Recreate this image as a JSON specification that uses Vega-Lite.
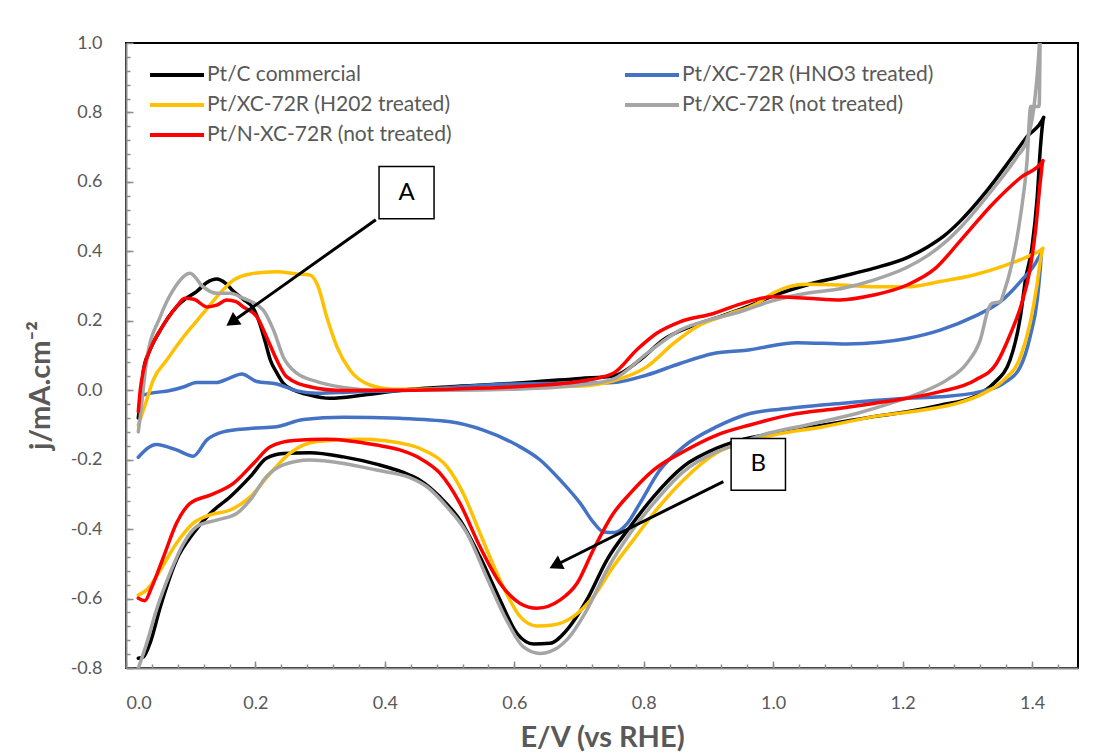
{
  "$schema": "https://vega.github.io/schema/vega-lite/v6.json",
  "width": 952,
  "height": 625,
  "autosize": {"type": "none"},
  "padding": {"left": 126, "top": 43, "right": 19, "bottom": 85},
  "background": "white",
  "config": {
    "locale": {"number": {"decimal": ".", "thousands": ",", "grouping": [3], "currency": ["$", ""], "minus": "-"}},
    "view": {"stroke": "#000000", "strokeWidth": 2},
    "font": "Lato",
    "axis": {
      "grid": false,
      "domainColor": "#8c8c8c",
      "domainWidth": 2,
      "tickColor": "#8c8c8c",
      "tickWidth": 1.5,
      "labelColor": "#595959",
      "labelFont": "Lato",
      "labelFontSize": 18,
      "titleColor": "#595959",
      "titleFont": "Lato",
      "titleFontSize": 29,
      "titleFontWeight": "bold",
      "zindex": 1
    }
  },
  "datasets": {
    "cv": [
      {"s": "Pt/C commercial", "i": 0, "E": 0.019, "j": -0.08},
      {"s": "Pt/C commercial", "i": 1, "E": 0.024, "j": 0.0},
      {"s": "Pt/C commercial", "i": 2, "E": 0.027, "j": 0.058},
      {"s": "Pt/C commercial", "i": 3, "E": 0.037, "j": 0.116},
      {"s": "Pt/C commercial", "i": 4, "E": 0.053, "j": 0.173},
      {"s": "Pt/C commercial", "i": 5, "E": 0.078, "j": 0.24},
      {"s": "Pt/C commercial", "i": 6, "E": 0.091, "j": 0.262},
      {"s": "Pt/C commercial", "i": 7, "E": 0.109, "j": 0.284},
      {"s": "Pt/C commercial", "i": 8, "E": 0.125, "j": 0.31},
      {"s": "Pt/C commercial", "i": 9, "E": 0.14, "j": 0.32},
      {"s": "Pt/C commercial", "i": 10, "E": 0.154, "j": 0.308},
      {"s": "Pt/C commercial", "i": 11, "E": 0.166, "j": 0.285},
      {"s": "Pt/C commercial", "i": 12, "E": 0.181, "j": 0.262},
      {"s": "Pt/C commercial", "i": 13, "E": 0.197, "j": 0.235},
      {"s": "Pt/C commercial", "i": 14, "E": 0.207, "j": 0.19},
      {"s": "Pt/C commercial", "i": 15, "E": 0.215, "j": 0.14},
      {"s": "Pt/C commercial", "i": 16, "E": 0.223, "j": 0.087},
      {"s": "Pt/C commercial", "i": 17, "E": 0.233, "j": 0.05},
      {"s": "Pt/C commercial", "i": 18, "E": 0.243, "j": 0.02},
      {"s": "Pt/C commercial", "i": 19, "E": 0.26, "j": 0.0},
      {"s": "Pt/C commercial", "i": 20, "E": 0.284, "j": -0.014},
      {"s": "Pt/C commercial", "i": 21, "E": 0.315, "j": -0.023},
      {"s": "Pt/C commercial", "i": 22, "E": 0.367, "j": -0.014},
      {"s": "Pt/C commercial", "i": 23, "E": 0.439, "j": 0.003},
      {"s": "Pt/C commercial", "i": 24, "E": 0.5, "j": 0.01},
      {"s": "Pt/C commercial", "i": 25, "E": 0.6, "j": 0.02},
      {"s": "Pt/C commercial", "i": 26, "E": 0.702, "j": 0.034},
      {"s": "Pt/C commercial", "i": 27, "E": 0.753, "j": 0.041},
      {"s": "Pt/C commercial", "i": 28, "E": 0.794, "j": 0.087},
      {"s": "Pt/C commercial", "i": 29, "E": 0.83, "j": 0.145},
      {"s": "Pt/C commercial", "i": 30, "E": 0.872, "j": 0.183},
      {"s": "Pt/C commercial", "i": 31, "E": 0.918, "j": 0.212},
      {"s": "Pt/C commercial", "i": 32, "E": 0.959, "j": 0.24},
      {"s": "Pt/C commercial", "i": 33, "E": 1.0, "j": 0.272},
      {"s": "Pt/C commercial", "i": 34, "E": 1.052, "j": 0.303},
      {"s": "Pt/C commercial", "i": 35, "E": 1.104, "j": 0.327},
      {"s": "Pt/C commercial", "i": 36, "E": 1.155, "j": 0.351},
      {"s": "Pt/C commercial", "i": 37, "E": 1.207, "j": 0.382},
      {"s": "Pt/C commercial", "i": 38, "E": 1.238, "j": 0.412},
      {"s": "Pt/C commercial", "i": 39, "E": 1.265, "j": 0.446},
      {"s": "Pt/C commercial", "i": 40, "E": 1.289, "j": 0.487},
      {"s": "Pt/C commercial", "i": 41, "E": 1.33, "j": 0.574},
      {"s": "Pt/C commercial", "i": 42, "E": 1.366, "j": 0.663},
      {"s": "Pt/C commercial", "i": 43, "E": 1.392, "j": 0.73},
      {"s": "Pt/C commercial", "i": 44, "E": 1.418, "j": 0.786},
      {"s": "Pt/C commercial", "i": 45, "E": 1.413, "j": 0.701},
      {"s": "Pt/C commercial", "i": 46, "E": 1.408, "j": 0.557},
      {"s": "Pt/C commercial", "i": 47, "E": 1.4, "j": 0.413},
      {"s": "Pt/C commercial", "i": 48, "E": 1.39, "j": 0.32},
      {"s": "Pt/C commercial", "i": 49, "E": 1.382, "j": 0.212},
      {"s": "Pt/C commercial", "i": 50, "E": 1.366, "j": 0.087},
      {"s": "Pt/C commercial", "i": 51, "E": 1.341, "j": 0.02},
      {"s": "Pt/C commercial", "i": 52, "E": 1.31, "j": -0.019},
      {"s": "Pt/C commercial", "i": 53, "E": 1.258, "j": -0.043},
      {"s": "Pt/C commercial", "i": 54, "E": 1.207, "j": -0.062},
      {"s": "Pt/C commercial", "i": 55, "E": 1.155, "j": -0.076},
      {"s": "Pt/C commercial", "i": 56, "E": 1.078, "j": -0.1},
      {"s": "Pt/C commercial", "i": 57, "E": 1.0, "j": -0.124},
      {"s": "Pt/C commercial", "i": 58, "E": 0.949, "j": -0.144},
      {"s": "Pt/C commercial", "i": 59, "E": 0.913, "j": -0.167},
      {"s": "Pt/C commercial", "i": 60, "E": 0.861, "j": -0.22},
      {"s": "Pt/C commercial", "i": 61, "E": 0.815, "j": -0.307},
      {"s": "Pt/C commercial", "i": 62, "E": 0.779, "j": -0.393},
      {"s": "Pt/C commercial", "i": 63, "E": 0.743, "j": -0.489},
      {"s": "Pt/C commercial", "i": 64, "E": 0.712, "j": -0.604},
      {"s": "Pt/C commercial", "i": 65, "E": 0.681, "j": -0.691},
      {"s": "Pt/C commercial", "i": 66, "E": 0.655, "j": -0.729},
      {"s": "Pt/C commercial", "i": 67, "E": 0.63, "j": -0.731},
      {"s": "Pt/C commercial", "i": 68, "E": 0.604, "j": -0.7},
      {"s": "Pt/C commercial", "i": 69, "E": 0.578, "j": -0.604},
      {"s": "Pt/C commercial", "i": 70, "E": 0.547, "j": -0.48},
      {"s": "Pt/C commercial", "i": 71, "E": 0.516, "j": -0.374},
      {"s": "Pt/C commercial", "i": 72, "E": 0.485, "j": -0.307},
      {"s": "Pt/C commercial", "i": 73, "E": 0.454, "j": -0.259},
      {"s": "Pt/C commercial", "i": 74, "E": 0.439, "j": -0.245},
      {"s": "Pt/C commercial", "i": 75, "E": 0.387, "j": -0.213},
      {"s": "Pt/C commercial", "i": 76, "E": 0.336, "j": -0.192},
      {"s": "Pt/C commercial", "i": 77, "E": 0.284, "j": -0.18},
      {"s": "Pt/C commercial", "i": 78, "E": 0.243, "j": -0.182},
      {"s": "Pt/C commercial", "i": 79, "E": 0.217, "j": -0.196},
      {"s": "Pt/C commercial", "i": 80, "E": 0.192, "j": -0.249},
      {"s": "Pt/C commercial", "i": 81, "E": 0.161, "j": -0.307},
      {"s": "Pt/C commercial", "i": 82, "E": 0.13, "j": -0.355},
      {"s": "Pt/C commercial", "i": 83, "E": 0.104, "j": -0.412},
      {"s": "Pt/C commercial", "i": 84, "E": 0.078, "j": -0.489},
      {"s": "Pt/C commercial", "i": 85, "E": 0.053, "j": -0.624},
      {"s": "Pt/C commercial", "i": 86, "E": 0.037, "j": -0.729},
      {"s": "Pt/C commercial", "i": 87, "E": 0.027, "j": -0.768},
      {"s": "Pt/C commercial", "i": 88, "E": 0.019, "j": -0.772},

      {"s": "Pt/XC-72R (HNO3 treated)", "i": 0, "E": 0.025, "j": -0.015},
      {"s": "Pt/XC-72R (HNO3 treated)", "i": 1, "E": 0.037, "j": -0.009},
      {"s": "Pt/XC-72R (HNO3 treated)", "i": 2, "E": 0.068, "j": -0.001},
      {"s": "Pt/XC-72R (HNO3 treated)", "i": 3, "E": 0.09, "j": 0.01},
      {"s": "Pt/XC-72R (HNO3 treated)", "i": 4, "E": 0.109, "j": 0.022},
      {"s": "Pt/XC-72R (HNO3 treated)", "i": 5, "E": 0.14, "j": 0.022},
      {"s": "Pt/XC-72R (HNO3 treated)", "i": 6, "E": 0.16, "j": 0.035},
      {"s": "Pt/XC-72R (HNO3 treated)", "i": 7, "E": 0.179, "j": 0.047},
      {"s": "Pt/XC-72R (HNO3 treated)", "i": 8, "E": 0.202, "j": 0.025},
      {"s": "Pt/XC-72R (HNO3 treated)", "i": 9, "E": 0.233, "j": 0.018},
      {"s": "Pt/XC-72R (HNO3 treated)", "i": 10, "E": 0.264, "j": -0.002},
      {"s": "Pt/XC-72R (HNO3 treated)", "i": 11, "E": 0.295, "j": -0.009},
      {"s": "Pt/XC-72R (HNO3 treated)", "i": 12, "E": 0.35, "j": -0.005},
      {"s": "Pt/XC-72R (HNO3 treated)", "i": 13, "E": 0.44, "j": 0.0},
      {"s": "Pt/XC-72R (HNO3 treated)", "i": 14, "E": 0.5, "j": 0.008},
      {"s": "Pt/XC-72R (HNO3 treated)", "i": 15, "E": 0.6, "j": 0.018},
      {"s": "Pt/XC-72R (HNO3 treated)", "i": 16, "E": 0.702, "j": 0.02},
      {"s": "Pt/XC-72R (HNO3 treated)", "i": 17, "E": 0.753, "j": 0.022},
      {"s": "Pt/XC-72R (HNO3 treated)", "i": 18, "E": 0.805, "j": 0.044},
      {"s": "Pt/XC-72R (HNO3 treated)", "i": 19, "E": 0.856, "j": 0.077},
      {"s": "Pt/XC-72R (HNO3 treated)", "i": 20, "E": 0.908, "j": 0.106},
      {"s": "Pt/XC-72R (HNO3 treated)", "i": 21, "E": 0.959, "j": 0.115},
      {"s": "Pt/XC-72R (HNO3 treated)", "i": 22, "E": 1.037, "j": 0.137},
      {"s": "Pt/XC-72R (HNO3 treated)", "i": 23, "E": 1.114, "j": 0.133},
      {"s": "Pt/XC-72R (HNO3 treated)", "i": 24, "E": 1.165, "j": 0.138},
      {"s": "Pt/XC-72R (HNO3 treated)", "i": 25, "E": 1.207, "j": 0.149},
      {"s": "Pt/XC-72R (HNO3 treated)", "i": 26, "E": 1.258, "j": 0.173},
      {"s": "Pt/XC-72R (HNO3 treated)", "i": 27, "E": 1.31, "j": 0.212},
      {"s": "Pt/XC-72R (HNO3 treated)", "i": 28, "E": 1.351, "j": 0.255},
      {"s": "Pt/XC-72R (HNO3 treated)", "i": 29, "E": 1.382, "j": 0.313},
      {"s": "Pt/XC-72R (HNO3 treated)", "i": 30, "E": 1.408, "j": 0.375},
      {"s": "Pt/XC-72R (HNO3 treated)", "i": 31, "E": 1.415, "j": 0.404},
      {"s": "Pt/XC-72R (HNO3 treated)", "i": 32, "E": 1.413, "j": 0.356},
      {"s": "Pt/XC-72R (HNO3 treated)", "i": 33, "E": 1.408, "j": 0.26},
      {"s": "Pt/XC-72R (HNO3 treated)", "i": 34, "E": 1.397, "j": 0.154},
      {"s": "Pt/XC-72R (HNO3 treated)", "i": 35, "E": 1.382, "j": 0.068},
      {"s": "Pt/XC-72R (HNO3 treated)", "i": 36, "E": 1.356, "j": 0.02},
      {"s": "Pt/XC-72R (HNO3 treated)", "i": 37, "E": 1.32, "j": -0.004},
      {"s": "Pt/XC-72R (HNO3 treated)", "i": 38, "E": 1.258, "j": -0.019},
      {"s": "Pt/XC-72R (HNO3 treated)", "i": 39, "E": 1.207, "j": -0.023},
      {"s": "Pt/XC-72R (HNO3 treated)", "i": 40, "E": 1.104, "j": -0.038},
      {"s": "Pt/XC-72R (HNO3 treated)", "i": 41, "E": 1.026, "j": -0.052},
      {"s": "Pt/XC-72R (HNO3 treated)", "i": 42, "E": 0.964, "j": -0.067},
      {"s": "Pt/XC-72R (HNO3 treated)", "i": 43, "E": 0.913, "j": -0.105},
      {"s": "Pt/XC-72R (HNO3 treated)", "i": 44, "E": 0.861, "j": -0.163},
      {"s": "Pt/XC-72R (HNO3 treated)", "i": 45, "E": 0.825, "j": -0.23},
      {"s": "Pt/XC-72R (HNO3 treated)", "i": 46, "E": 0.794, "j": -0.326},
      {"s": "Pt/XC-72R (HNO3 treated)", "i": 47, "E": 0.774, "j": -0.385},
      {"s": "Pt/XC-72R (HNO3 treated)", "i": 48, "E": 0.755, "j": -0.41},
      {"s": "Pt/XC-72R (HNO3 treated)", "i": 49, "E": 0.738, "j": -0.408},
      {"s": "Pt/XC-72R (HNO3 treated)", "i": 50, "E": 0.722, "j": -0.38},
      {"s": "Pt/XC-72R (HNO3 treated)", "i": 51, "E": 0.702, "j": -0.326},
      {"s": "Pt/XC-72R (HNO3 treated)", "i": 52, "E": 0.671, "j": -0.259},
      {"s": "Pt/XC-72R (HNO3 treated)", "i": 53, "E": 0.64, "j": -0.201},
      {"s": "Pt/XC-72R (HNO3 treated)", "i": 54, "E": 0.604, "j": -0.158},
      {"s": "Pt/XC-72R (HNO3 treated)", "i": 55, "E": 0.552, "j": -0.115},
      {"s": "Pt/XC-72R (HNO3 treated)", "i": 56, "E": 0.501, "j": -0.091},
      {"s": "Pt/XC-72R (HNO3 treated)", "i": 57, "E": 0.423, "j": -0.081},
      {"s": "Pt/XC-72R (HNO3 treated)", "i": 58, "E": 0.336, "j": -0.078},
      {"s": "Pt/XC-72R (HNO3 treated)", "i": 59, "E": 0.274, "j": -0.084},
      {"s": "Pt/XC-72R (HNO3 treated)", "i": 60, "E": 0.233, "j": -0.105},
      {"s": "Pt/XC-72R (HNO3 treated)", "i": 61, "E": 0.192, "j": -0.11},
      {"s": "Pt/XC-72R (HNO3 treated)", "i": 62, "E": 0.15, "j": -0.12},
      {"s": "Pt/XC-72R (HNO3 treated)", "i": 63, "E": 0.125, "j": -0.143},
      {"s": "Pt/XC-72R (HNO3 treated)", "i": 64, "E": 0.104, "j": -0.19},
      {"s": "Pt/XC-72R (HNO3 treated)", "i": 65, "E": 0.078, "j": -0.172},
      {"s": "Pt/XC-72R (HNO3 treated)", "i": 66, "E": 0.047, "j": -0.156},
      {"s": "Pt/XC-72R (HNO3 treated)", "i": 67, "E": 0.019, "j": -0.193},

      {"s": "Pt/XC-72R (H202 treated)", "i": 0, "E": 0.019, "j": -0.1},
      {"s": "Pt/XC-72R (H202 treated)", "i": 1, "E": 0.032, "j": -0.028},
      {"s": "Pt/XC-72R (H202 treated)", "i": 2, "E": 0.042, "j": 0.029},
      {"s": "Pt/XC-72R (H202 treated)", "i": 3, "E": 0.063, "j": 0.087},
      {"s": "Pt/XC-72R (H202 treated)", "i": 4, "E": 0.089, "j": 0.154},
      {"s": "Pt/XC-72R (H202 treated)", "i": 5, "E": 0.119, "j": 0.221},
      {"s": "Pt/XC-72R (H202 treated)", "i": 6, "E": 0.145, "j": 0.279},
      {"s": "Pt/XC-72R (H202 treated)", "i": 7, "E": 0.166, "j": 0.317},
      {"s": "Pt/XC-72R (H202 treated)", "i": 8, "E": 0.192, "j": 0.335},
      {"s": "Pt/XC-72R (H202 treated)", "i": 9, "E": 0.233, "j": 0.341},
      {"s": "Pt/XC-72R (H202 treated)", "i": 10, "E": 0.264, "j": 0.335},
      {"s": "Pt/XC-72R (H202 treated)", "i": 11, "E": 0.284, "j": 0.332},
      {"s": "Pt/XC-72R (H202 treated)", "i": 12, "E": 0.297, "j": 0.298},
      {"s": "Pt/XC-72R (H202 treated)", "i": 13, "E": 0.31, "j": 0.212},
      {"s": "Pt/XC-72R (H202 treated)", "i": 14, "E": 0.326, "j": 0.125},
      {"s": "Pt/XC-72R (H202 treated)", "i": 15, "E": 0.346, "j": 0.058},
      {"s": "Pt/XC-72R (H202 treated)", "i": 16, "E": 0.377, "j": 0.015},
      {"s": "Pt/XC-72R (H202 treated)", "i": 17, "E": 0.413, "j": 0.003},
      {"s": "Pt/XC-72R (H202 treated)", "i": 18, "E": 0.5, "j": 0.003},
      {"s": "Pt/XC-72R (H202 treated)", "i": 19, "E": 0.6, "j": 0.008},
      {"s": "Pt/XC-72R (H202 treated)", "i": 20, "E": 0.702, "j": 0.012},
      {"s": "Pt/XC-72R (H202 treated)", "i": 21, "E": 0.753, "j": 0.027},
      {"s": "Pt/XC-72R (H202 treated)", "i": 22, "E": 0.805, "j": 0.068},
      {"s": "Pt/XC-72R (H202 treated)", "i": 23, "E": 0.846, "j": 0.135},
      {"s": "Pt/XC-72R (H202 treated)", "i": 24, "E": 0.882, "j": 0.183},
      {"s": "Pt/XC-72R (H202 treated)", "i": 25, "E": 0.928, "j": 0.217},
      {"s": "Pt/XC-72R (H202 treated)", "i": 26, "E": 0.975, "j": 0.25},
      {"s": "Pt/XC-72R (H202 treated)", "i": 27, "E": 1.0, "j": 0.28},
      {"s": "Pt/XC-72R (H202 treated)", "i": 28, "E": 1.052, "j": 0.305},
      {"s": "Pt/XC-72R (H202 treated)", "i": 29, "E": 1.104, "j": 0.303},
      {"s": "Pt/XC-72R (H202 treated)", "i": 30, "E": 1.155, "j": 0.298},
      {"s": "Pt/XC-72R (H202 treated)", "i": 31, "E": 1.207, "j": 0.298},
      {"s": "Pt/XC-72R (H202 treated)", "i": 32, "E": 1.258, "j": 0.313},
      {"s": "Pt/XC-72R (H202 treated)", "i": 33, "E": 1.31, "j": 0.332},
      {"s": "Pt/XC-72R (H202 treated)", "i": 34, "E": 1.361, "j": 0.361},
      {"s": "Pt/XC-72R (H202 treated)", "i": 35, "E": 1.398, "j": 0.389},
      {"s": "Pt/XC-72R (H202 treated)", "i": 36, "E": 1.417, "j": 0.409},
      {"s": "Pt/XC-72R (H202 treated)", "i": 37, "E": 1.413, "j": 0.375},
      {"s": "Pt/XC-72R (H202 treated)", "i": 38, "E": 1.408, "j": 0.308},
      {"s": "Pt/XC-72R (H202 treated)", "i": 39, "E": 1.397, "j": 0.193},
      {"s": "Pt/XC-72R (H202 treated)", "i": 40, "E": 1.382, "j": 0.096},
      {"s": "Pt/XC-72R (H202 treated)", "i": 41, "E": 1.356, "j": 0.029},
      {"s": "Pt/XC-72R (H202 treated)", "i": 42, "E": 1.325, "j": -0.009},
      {"s": "Pt/XC-72R (H202 treated)", "i": 43, "E": 1.284, "j": -0.038},
      {"s": "Pt/XC-72R (H202 treated)", "i": 44, "E": 1.232, "j": -0.057},
      {"s": "Pt/XC-72R (H202 treated)", "i": 45, "E": 1.155, "j": -0.076},
      {"s": "Pt/XC-72R (H202 treated)", "i": 46, "E": 1.078, "j": -0.105},
      {"s": "Pt/XC-72R (H202 treated)", "i": 47, "E": 1.0, "j": -0.129},
      {"s": "Pt/XC-72R (H202 treated)", "i": 48, "E": 0.949, "j": -0.153},
      {"s": "Pt/XC-72R (H202 treated)", "i": 49, "E": 0.913, "j": -0.18},
      {"s": "Pt/XC-72R (H202 treated)", "i": 50, "E": 0.861, "j": -0.259},
      {"s": "Pt/XC-72R (H202 treated)", "i": 51, "E": 0.815, "j": -0.355},
      {"s": "Pt/XC-72R (H202 treated)", "i": 52, "E": 0.784, "j": -0.431},
      {"s": "Pt/XC-72R (H202 treated)", "i": 53, "E": 0.753, "j": -0.508},
      {"s": "Pt/XC-72R (H202 treated)", "i": 54, "E": 0.722, "j": -0.595},
      {"s": "Pt/XC-72R (H202 treated)", "i": 55, "E": 0.691, "j": -0.652},
      {"s": "Pt/XC-72R (H202 treated)", "i": 56, "E": 0.66, "j": -0.676},
      {"s": "Pt/XC-72R (H202 treated)", "i": 57, "E": 0.635, "j": -0.679},
      {"s": "Pt/XC-72R (H202 treated)", "i": 58, "E": 0.609, "j": -0.652},
      {"s": "Pt/XC-72R (H202 treated)", "i": 59, "E": 0.578, "j": -0.547},
      {"s": "Pt/XC-72R (H202 treated)", "i": 60, "E": 0.547, "j": -0.412},
      {"s": "Pt/XC-72R (H202 treated)", "i": 61, "E": 0.521, "j": -0.297},
      {"s": "Pt/XC-72R (H202 treated)", "i": 62, "E": 0.496, "j": -0.22},
      {"s": "Pt/XC-72R (H202 treated)", "i": 63, "E": 0.465, "j": -0.177},
      {"s": "Pt/XC-72R (H202 treated)", "i": 64, "E": 0.439, "j": -0.158},
      {"s": "Pt/XC-72R (H202 treated)", "i": 65, "E": 0.362, "j": -0.141},
      {"s": "Pt/XC-72R (H202 treated)", "i": 66, "E": 0.295, "j": -0.148},
      {"s": "Pt/XC-72R (H202 treated)", "i": 67, "E": 0.253, "j": -0.182},
      {"s": "Pt/XC-72R (H202 treated)", "i": 68, "E": 0.223, "j": -0.239},
      {"s": "Pt/XC-72R (H202 treated)", "i": 69, "E": 0.192, "j": -0.307},
      {"s": "Pt/XC-72R (H202 treated)", "i": 70, "E": 0.161, "j": -0.345},
      {"s": "Pt/XC-72R (H202 treated)", "i": 71, "E": 0.13, "j": -0.359},
      {"s": "Pt/XC-72R (H202 treated)", "i": 72, "E": 0.104, "j": -0.383},
      {"s": "Pt/XC-72R (H202 treated)", "i": 73, "E": 0.078, "j": -0.441},
      {"s": "Pt/XC-72R (H202 treated)", "i": 74, "E": 0.053, "j": -0.518},
      {"s": "Pt/XC-72R (H202 treated)", "i": 75, "E": 0.032, "j": -0.575},
      {"s": "Pt/XC-72R (H202 treated)", "i": 76, "E": 0.019, "j": -0.59},

      {"s": "Pt/XC-72R (not treated)", "i": 0, "E": 0.019, "j": -0.12},
      {"s": "Pt/XC-72R (not treated)", "i": 1, "E": 0.022, "j": -0.076},
      {"s": "Pt/XC-72R (not treated)", "i": 2, "E": 0.032, "j": 0.087},
      {"s": "Pt/XC-72R (not treated)", "i": 3, "E": 0.053, "j": 0.212},
      {"s": "Pt/XC-72R (not treated)", "i": 4, "E": 0.073, "j": 0.289},
      {"s": "Pt/XC-72R (not treated)", "i": 5, "E": 0.099, "j": 0.337},
      {"s": "Pt/XC-72R (not treated)", "i": 6, "E": 0.119, "j": 0.298},
      {"s": "Pt/XC-72R (not treated)", "i": 7, "E": 0.14, "j": 0.279},
      {"s": "Pt/XC-72R (not treated)", "i": 8, "E": 0.161, "j": 0.279},
      {"s": "Pt/XC-72R (not treated)", "i": 9, "E": 0.181, "j": 0.265},
      {"s": "Pt/XC-72R (not treated)", "i": 10, "E": 0.212, "j": 0.231},
      {"s": "Pt/XC-72R (not treated)", "i": 11, "E": 0.228, "j": 0.173},
      {"s": "Pt/XC-72R (not treated)", "i": 12, "E": 0.243, "j": 0.096},
      {"s": "Pt/XC-72R (not treated)", "i": 13, "E": 0.264, "j": 0.049},
      {"s": "Pt/XC-72R (not treated)", "i": 14, "E": 0.295, "j": 0.025},
      {"s": "Pt/XC-72R (not treated)", "i": 15, "E": 0.336, "j": 0.008},
      {"s": "Pt/XC-72R (not treated)", "i": 16, "E": 0.387, "j": 0.0},
      {"s": "Pt/XC-72R (not treated)", "i": 17, "E": 0.5, "j": 0.0},
      {"s": "Pt/XC-72R (not treated)", "i": 18, "E": 0.6, "j": 0.003},
      {"s": "Pt/XC-72R (not treated)", "i": 19, "E": 0.702, "j": 0.015},
      {"s": "Pt/XC-72R (not treated)", "i": 20, "E": 0.753, "j": 0.032},
      {"s": "Pt/XC-72R (not treated)", "i": 21, "E": 0.805, "j": 0.106},
      {"s": "Pt/XC-72R (not treated)", "i": 22, "E": 0.856, "j": 0.173},
      {"s": "Pt/XC-72R (not treated)", "i": 23, "E": 0.908, "j": 0.206},
      {"s": "Pt/XC-72R (not treated)", "i": 24, "E": 0.949, "j": 0.226},
      {"s": "Pt/XC-72R (not treated)", "i": 25, "E": 1.0, "j": 0.258},
      {"s": "Pt/XC-72R (not treated)", "i": 26, "E": 1.052, "j": 0.279},
      {"s": "Pt/XC-72R (not treated)", "i": 27, "E": 1.104, "j": 0.292},
      {"s": "Pt/XC-72R (not treated)", "i": 28, "E": 1.155, "j": 0.317},
      {"s": "Pt/XC-72R (not treated)", "i": 29, "E": 1.207, "j": 0.354},
      {"s": "Pt/XC-72R (not treated)", "i": 30, "E": 1.238, "j": 0.387},
      {"s": "Pt/XC-72R (not treated)", "i": 31, "E": 1.265, "j": 0.425},
      {"s": "Pt/XC-72R (not treated)", "i": 32, "E": 1.289, "j": 0.468},
      {"s": "Pt/XC-72R (not treated)", "i": 33, "E": 1.341, "j": 0.583},
      {"s": "Pt/XC-72R (not treated)", "i": 34, "E": 1.377, "j": 0.673},
      {"s": "Pt/XC-72R (not treated)", "i": 35, "E": 1.392, "j": 0.72},
      {"s": "Pt/XC-72R (not treated)", "i": 36, "E": 1.405, "j": 0.85},
      {"s": "Pt/XC-72R (not treated)", "i": 37, "E": 1.413, "j": 1.08},
      {"s": "Pt/XC-72R (not treated)", "i": 38, "E": 1.411, "j": 0.817},
      {"s": "Pt/XC-72R (not treated)", "i": 39, "E": 1.398, "j": 0.817},
      {"s": "Pt/XC-72R (not treated)", "i": 40, "E": 1.392, "j": 0.653},
      {"s": "Pt/XC-72R (not treated)", "i": 41, "E": 1.382, "j": 0.5},
      {"s": "Pt/XC-72R (not treated)", "i": 42, "E": 1.369, "j": 0.365},
      {"s": "Pt/XC-72R (not treated)", "i": 43, "E": 1.356, "j": 0.279},
      {"s": "Pt/XC-72R (not treated)", "i": 44, "E": 1.351, "j": 0.255},
      {"s": "Pt/XC-72R (not treated)", "i": 45, "E": 1.338, "j": 0.25},
      {"s": "Pt/XC-72R (not treated)", "i": 46, "E": 1.333, "j": 0.236},
      {"s": "Pt/XC-72R (not treated)", "i": 47, "E": 1.32, "j": 0.145},
      {"s": "Pt/XC-72R (not treated)", "i": 48, "E": 1.299, "j": 0.077},
      {"s": "Pt/XC-72R (not treated)", "i": 49, "E": 1.268, "j": 0.029},
      {"s": "Pt/XC-72R (not treated)", "i": 50, "E": 1.232, "j": -0.004},
      {"s": "Pt/XC-72R (not treated)", "i": 51, "E": 1.181, "j": -0.038},
      {"s": "Pt/XC-72R (not treated)", "i": 52, "E": 1.129, "j": -0.067},
      {"s": "Pt/XC-72R (not treated)", "i": 53, "E": 1.052, "j": -0.1},
      {"s": "Pt/XC-72R (not treated)", "i": 54, "E": 0.975, "j": -0.134},
      {"s": "Pt/XC-72R (not treated)", "i": 55, "E": 0.949, "j": -0.153},
      {"s": "Pt/XC-72R (not treated)", "i": 56, "E": 0.913, "j": -0.177},
      {"s": "Pt/XC-72R (not treated)", "i": 57, "E": 0.861, "j": -0.235},
      {"s": "Pt/XC-72R (not treated)", "i": 58, "E": 0.815, "j": -0.326},
      {"s": "Pt/XC-72R (not treated)", "i": 59, "E": 0.779, "j": -0.412},
      {"s": "Pt/XC-72R (not treated)", "i": 60, "E": 0.743, "j": -0.518},
      {"s": "Pt/XC-72R (not treated)", "i": 61, "E": 0.712, "j": -0.633},
      {"s": "Pt/XC-72R (not treated)", "i": 62, "E": 0.681, "j": -0.719},
      {"s": "Pt/XC-72R (not treated)", "i": 63, "E": 0.655, "j": -0.753},
      {"s": "Pt/XC-72R (not treated)", "i": 64, "E": 0.64, "j": -0.758},
      {"s": "Pt/XC-72R (not treated)", "i": 65, "E": 0.614, "j": -0.739},
      {"s": "Pt/XC-72R (not treated)", "i": 66, "E": 0.588, "j": -0.662},
      {"s": "Pt/XC-72R (not treated)", "i": 67, "E": 0.557, "j": -0.537},
      {"s": "Pt/XC-72R (not treated)", "i": 68, "E": 0.527, "j": -0.412},
      {"s": "Pt/XC-72R (not treated)", "i": 69, "E": 0.496, "j": -0.336},
      {"s": "Pt/XC-72R (not treated)", "i": 70, "E": 0.465, "j": -0.278},
      {"s": "Pt/XC-72R (not treated)", "i": 71, "E": 0.439, "j": -0.252},
      {"s": "Pt/XC-72R (not treated)", "i": 72, "E": 0.387, "j": -0.23},
      {"s": "Pt/XC-72R (not treated)", "i": 73, "E": 0.336, "j": -0.211},
      {"s": "Pt/XC-72R (not treated)", "i": 74, "E": 0.284, "j": -0.201},
      {"s": "Pt/XC-72R (not treated)", "i": 75, "E": 0.243, "j": -0.215},
      {"s": "Pt/XC-72R (not treated)", "i": 76, "E": 0.217, "j": -0.249},
      {"s": "Pt/XC-72R (not treated)", "i": 77, "E": 0.192, "j": -0.316},
      {"s": "Pt/XC-72R (not treated)", "i": 78, "E": 0.171, "j": -0.355},
      {"s": "Pt/XC-72R (not treated)", "i": 79, "E": 0.14, "j": -0.374},
      {"s": "Pt/XC-72R (not treated)", "i": 80, "E": 0.109, "j": -0.393},
      {"s": "Pt/XC-72R (not treated)", "i": 81, "E": 0.089, "j": -0.441},
      {"s": "Pt/XC-72R (not treated)", "i": 82, "E": 0.068, "j": -0.527},
      {"s": "Pt/XC-72R (not treated)", "i": 83, "E": 0.047, "j": -0.633},
      {"s": "Pt/XC-72R (not treated)", "i": 84, "E": 0.032, "j": -0.729},
      {"s": "Pt/XC-72R (not treated)", "i": 85, "E": 0.019, "j": -0.801},

      {"s": "Pt/N-XC-72R (not treated)", "i": 0, "E": 0.019, "j": -0.062},
      {"s": "Pt/N-XC-72R (not treated)", "i": 1, "E": 0.022, "j": 0.0},
      {"s": "Pt/N-XC-72R (not treated)", "i": 2, "E": 0.027, "j": 0.058},
      {"s": "Pt/N-XC-72R (not treated)", "i": 3, "E": 0.037, "j": 0.116},
      {"s": "Pt/N-XC-72R (not treated)", "i": 4, "E": 0.053, "j": 0.173},
      {"s": "Pt/N-XC-72R (not treated)", "i": 5, "E": 0.078, "j": 0.24},
      {"s": "Pt/N-XC-72R (not treated)", "i": 6, "E": 0.091, "j": 0.265},
      {"s": "Pt/N-XC-72R (not treated)", "i": 7, "E": 0.105, "j": 0.262},
      {"s": "Pt/N-XC-72R (not treated)", "i": 8, "E": 0.125, "j": 0.24},
      {"s": "Pt/N-XC-72R (not treated)", "i": 9, "E": 0.14, "j": 0.245},
      {"s": "Pt/N-XC-72R (not treated)", "i": 10, "E": 0.156, "j": 0.26},
      {"s": "Pt/N-XC-72R (not treated)", "i": 11, "E": 0.17, "j": 0.255},
      {"s": "Pt/N-XC-72R (not treated)", "i": 12, "E": 0.181, "j": 0.24},
      {"s": "Pt/N-XC-72R (not treated)", "i": 13, "E": 0.202, "j": 0.212},
      {"s": "Pt/N-XC-72R (not treated)", "i": 14, "E": 0.217, "j": 0.154},
      {"s": "Pt/N-XC-72R (not treated)", "i": 15, "E": 0.233, "j": 0.087},
      {"s": "Pt/N-XC-72R (not treated)", "i": 16, "E": 0.248, "j": 0.039},
      {"s": "Pt/N-XC-72R (not treated)", "i": 17, "E": 0.284, "j": 0.01},
      {"s": "Pt/N-XC-72R (not treated)", "i": 18, "E": 0.336, "j": -0.001},
      {"s": "Pt/N-XC-72R (not treated)", "i": 19, "E": 0.439, "j": 0.0},
      {"s": "Pt/N-XC-72R (not treated)", "i": 20, "E": 0.5, "j": 0.003},
      {"s": "Pt/N-XC-72R (not treated)", "i": 21, "E": 0.6, "j": 0.01},
      {"s": "Pt/N-XC-72R (not treated)", "i": 22, "E": 0.702, "j": 0.026},
      {"s": "Pt/N-XC-72R (not treated)", "i": 23, "E": 0.753, "j": 0.049},
      {"s": "Pt/N-XC-72R (not treated)", "i": 24, "E": 0.789, "j": 0.116},
      {"s": "Pt/N-XC-72R (not treated)", "i": 25, "E": 0.82, "j": 0.164},
      {"s": "Pt/N-XC-72R (not treated)", "i": 26, "E": 0.856, "j": 0.197},
      {"s": "Pt/N-XC-72R (not treated)", "i": 27, "E": 0.908, "j": 0.221},
      {"s": "Pt/N-XC-72R (not treated)", "i": 28, "E": 0.949, "j": 0.248},
      {"s": "Pt/N-XC-72R (not treated)", "i": 29, "E": 1.0, "j": 0.269},
      {"s": "Pt/N-XC-72R (not treated)", "i": 30, "E": 1.052, "j": 0.265},
      {"s": "Pt/N-XC-72R (not treated)", "i": 31, "E": 1.104, "j": 0.26},
      {"s": "Pt/N-XC-72R (not treated)", "i": 32, "E": 1.155, "j": 0.274},
      {"s": "Pt/N-XC-72R (not treated)", "i": 33, "E": 1.207, "j": 0.303},
      {"s": "Pt/N-XC-72R (not treated)", "i": 34, "E": 1.25, "j": 0.35},
      {"s": "Pt/N-XC-72R (not treated)", "i": 35, "E": 1.289, "j": 0.43},
      {"s": "Pt/N-XC-72R (not treated)", "i": 36, "E": 1.341, "j": 0.54},
      {"s": "Pt/N-XC-72R (not treated)", "i": 37, "E": 1.382, "j": 0.612},
      {"s": "Pt/N-XC-72R (not treated)", "i": 38, "E": 1.417, "j": 0.661},
      {"s": "Pt/N-XC-72R (not treated)", "i": 39, "E": 1.413, "j": 0.605},
      {"s": "Pt/N-XC-72R (not treated)", "i": 40, "E": 1.406, "j": 0.47},
      {"s": "Pt/N-XC-72R (not treated)", "i": 41, "E": 1.396, "j": 0.34},
      {"s": "Pt/N-XC-72R (not treated)", "i": 42, "E": 1.384, "j": 0.25},
      {"s": "Pt/N-XC-72R (not treated)", "i": 43, "E": 1.367, "j": 0.164},
      {"s": "Pt/N-XC-72R (not treated)", "i": 44, "E": 1.345, "j": 0.077},
      {"s": "Pt/N-XC-72R (not treated)", "i": 45, "E": 1.312, "j": 0.029},
      {"s": "Pt/N-XC-72R (not treated)", "i": 46, "E": 1.258, "j": -0.004},
      {"s": "Pt/N-XC-72R (not treated)", "i": 47, "E": 1.207, "j": -0.023},
      {"s": "Pt/N-XC-72R (not treated)", "i": 48, "E": 1.155, "j": -0.038},
      {"s": "Pt/N-XC-72R (not treated)", "i": 49, "E": 1.104, "j": -0.052},
      {"s": "Pt/N-XC-72R (not treated)", "i": 50, "E": 1.026, "j": -0.071},
      {"s": "Pt/N-XC-72R (not treated)", "i": 51, "E": 0.964, "j": -0.1},
      {"s": "Pt/N-XC-72R (not treated)", "i": 52, "E": 0.913, "j": -0.129},
      {"s": "Pt/N-XC-72R (not treated)", "i": 53, "E": 0.861, "j": -0.177},
      {"s": "Pt/N-XC-72R (not treated)", "i": 54, "E": 0.815, "j": -0.23},
      {"s": "Pt/N-XC-72R (not treated)", "i": 55, "E": 0.779, "j": -0.297},
      {"s": "Pt/N-XC-72R (not treated)", "i": 56, "E": 0.753, "j": -0.355},
      {"s": "Pt/N-XC-72R (not treated)", "i": 57, "E": 0.722, "j": -0.46},
      {"s": "Pt/N-XC-72R (not treated)", "i": 58, "E": 0.697, "j": -0.556},
      {"s": "Pt/N-XC-72R (not treated)", "i": 59, "E": 0.671, "j": -0.604},
      {"s": "Pt/N-XC-72R (not treated)", "i": 60, "E": 0.635, "j": -0.628},
      {"s": "Pt/N-XC-72R (not treated)", "i": 61, "E": 0.609, "j": -0.614},
      {"s": "Pt/N-XC-72R (not treated)", "i": 62, "E": 0.578, "j": -0.556},
      {"s": "Pt/N-XC-72R (not treated)", "i": 63, "E": 0.547, "j": -0.451},
      {"s": "Pt/N-XC-72R (not treated)", "i": 64, "E": 0.516, "j": -0.326},
      {"s": "Pt/N-XC-72R (not treated)", "i": 65, "E": 0.485, "j": -0.239},
      {"s": "Pt/N-XC-72R (not treated)", "i": 66, "E": 0.454, "j": -0.196},
      {"s": "Pt/N-XC-72R (not treated)", "i": 67, "E": 0.423, "j": -0.172},
      {"s": "Pt/N-XC-72R (not treated)", "i": 68, "E": 0.387, "j": -0.158},
      {"s": "Pt/N-XC-72R (not treated)", "i": 69, "E": 0.31, "j": -0.141},
      {"s": "Pt/N-XC-72R (not treated)", "i": 70, "E": 0.259, "j": -0.145},
      {"s": "Pt/N-XC-72R (not treated)", "i": 71, "E": 0.223, "j": -0.163},
      {"s": "Pt/N-XC-72R (not treated)", "i": 72, "E": 0.197, "j": -0.211},
      {"s": "Pt/N-XC-72R (not treated)", "i": 73, "E": 0.166, "j": -0.268},
      {"s": "Pt/N-XC-72R (not treated)", "i": 74, "E": 0.13, "j": -0.302},
      {"s": "Pt/N-XC-72R (not treated)", "i": 75, "E": 0.099, "j": -0.326},
      {"s": "Pt/N-XC-72R (not treated)", "i": 76, "E": 0.078, "j": -0.383},
      {"s": "Pt/N-XC-72R (not treated)", "i": 77, "E": 0.058, "j": -0.48},
      {"s": "Pt/N-XC-72R (not treated)", "i": 78, "E": 0.04, "j": -0.566},
      {"s": "Pt/N-XC-72R (not treated)", "i": 79, "E": 0.029, "j": -0.606},
      {"s": "Pt/N-XC-72R (not treated)", "i": 80, "E": 0.019, "j": -0.599}
    ],
    "boxes": [
      {"label": "A", "x0": 0.391, "x1": 0.476, "y0": 0.494, "y1": 0.644, "cx": 0.4335, "cy": 0.569},
      {"label": "B", "x0": 0.935, "x1": 1.019, "y0": -0.139, "y1": -0.288, "cx": 0.977, "cy": -0.2135}
    ],
    "arrows": [
      {"label": "A", "x0": 0.386, "y0": 0.491, "x1": 0.1635, "y1": 0.1964},
      {"label": "B", "x0": 0.923, "y0": -0.263, "x1": 0.6635, "y1": -0.504}
    ]
  },
  "layer": [
    {
      "data": {"name": "cv"},
      "mark": {"type": "line", "strokeWidth": 3.5, "clip": true, "strokeJoin": "round", "strokeCap": "round", "interpolate": "monotone"},
      "encoding": {
        "x": {
          "field": "E", "type": "quantitative",
          "scale": {"domain": [0, 1.471], "nice": false, "zero": false},
          "axis": {
            "values": [0, 0.2, 0.4, 0.6, 0.8, 1.0, 1.2, 1.4],
            "format": ".1f",
            "tickSize": -7,
            "labelPadding": 33,
            "title": "E/V (vs RHE)",
            "titleY": 69,
            "titleBaseline": "middle"
          }
        },
        "y": {
          "field": "j", "type": "quantitative",
          "scale": {"domain": [-0.8, 1.0], "nice": false, "zero": false},
          "axis": {
            "values": [-0.8, -0.6, -0.4, -0.2, 0, 0.2, 0.4, 0.6, 0.8, 1.0],
            "format": ".1f",
            "tickSize": -7,
            "labelPadding": 31,
            "title": "j/mA.cm⁻²",
            "titleX": -86,
            "titleY": 342,
            "titleAngle": -90,
            "titleAlign": "center",
            "titleBaseline": "middle"
          }
        },
        "color": {
          "field": "s", "type": "nominal",
          "scale": {
            "domain": ["Pt/C commercial", "Pt/XC-72R (H202 treated)", "Pt/N-XC-72R (not treated)", "Pt/XC-72R (HNO3 treated)", "Pt/XC-72R (not treated)"],
            "range": ["#000000", "#FFC000", "#FF0000", "#4472C4", "#A5A5A5"]
          },
          "legend": {
            "orient": "none",
            "legendX": 22,
            "legendY": 18,
            "columns": 2,
            "title": null,
            "padding": 0,
            "symbolType": "stroke",
            "symbolSize": 2916,
            "symbolStrokeWidth": 4,
            "labelFont": "Lato",
            "labelFontSize": 21,
            "labelColor": "#595959",
            "labelOffset": 1,
            "labelLimit": 400,
            "clipHeight": 28,
            "rowPadding": 2,
            "columnPadding": 171
          }
        },
        "order": {"field": "i", "type": "quantitative"}
      }
    },
    {
      "data": {"name": "arrows"},
      "mark": {"type": "rule", "color": "#000000", "strokeWidth": 3},
      "encoding": {
        "x": {"field": "x0", "type": "quantitative", "axis": null},
        "y": {"field": "y0", "type": "quantitative", "axis": null},
        "x2": {"field": "x1"},
        "y2": {"field": "y1"}
      }
    },
    {
      "data": {"name": "arrows"},
      "transform": [{"filter": "datum.label === 'A'"}],
      "mark": {"type": "point", "shape": "triangle-up", "filled": true, "color": "#000000", "opacity": 1, "size": 230, "angle": 235.5},
      "encoding": {
        "x": {"field": "x1", "type": "quantitative", "axis": null},
        "y": {"field": "y1", "type": "quantitative", "axis": null}
      }
    },
    {
      "data": {"name": "arrows"},
      "transform": [{"filter": "datum.label === 'B'"}],
      "mark": {"type": "point", "shape": "triangle-up", "filled": true, "color": "#000000", "opacity": 1, "size": 230, "angle": 243.4},
      "encoding": {
        "x": {"field": "x1", "type": "quantitative", "axis": null},
        "y": {"field": "y1", "type": "quantitative", "axis": null}
      }
    },
    {
      "data": {"name": "boxes"},
      "mark": {"type": "rect", "fill": "#ffffff", "stroke": "#000000", "strokeWidth": 1.5},
      "encoding": {
        "x": {"field": "x0", "type": "quantitative",
          "axis": {"values": [0.04, 0.08, 0.12, 0.16, 0.2, 0.24, 0.28, 0.32, 0.36, 0.4, 0.44, 0.48, 0.52, 0.56, 0.6, 0.64, 0.68, 0.72, 0.76, 0.8, 0.84, 0.88, 0.92, 0.96, 1.0, 1.04, 1.08, 1.12, 1.16, 1.2, 1.24, 1.28, 1.32, 1.36, 1.4, 1.44],
            "orient": "bottom", "labels": false, "domain": false, "tickSize": -4, "title": null}},
        "x2": {"field": "x1"},
        "y": {"field": "y0", "type": "quantitative",
          "axis": {"values": [-0.76, -0.72, -0.68, -0.64, -0.6, -0.56, -0.52, -0.48, -0.44, -0.4, -0.36, -0.32, -0.28, -0.24, -0.2, -0.16, -0.12, -0.08, -0.04, 0, 0.04, 0.08, 0.12, 0.16, 0.2, 0.24, 0.28, 0.32, 0.36, 0.4, 0.44, 0.48, 0.52, 0.56, 0.6, 0.64, 0.68, 0.72, 0.76, 0.8, 0.84, 0.88, 0.92, 0.96],
            "orient": "left", "labels": false, "domain": false, "tickSize": -4, "title": null}},
        "y2": {"field": "y1"}
      }
    },
    {
      "data": {"name": "boxes"},
      "mark": {"type": "text", "font": "Lato", "fontSize": 24, "color": "#000000", "align": "center", "baseline": "middle"},
      "encoding": {
        "x": {"field": "cx", "type": "quantitative", "axis": null},
        "y": {"field": "cy", "type": "quantitative", "axis": null},
        "text": {"field": "label"}
      }
    }
  ],
  "resolve": {"axis": {"x": "independent", "y": "independent"}}
}
